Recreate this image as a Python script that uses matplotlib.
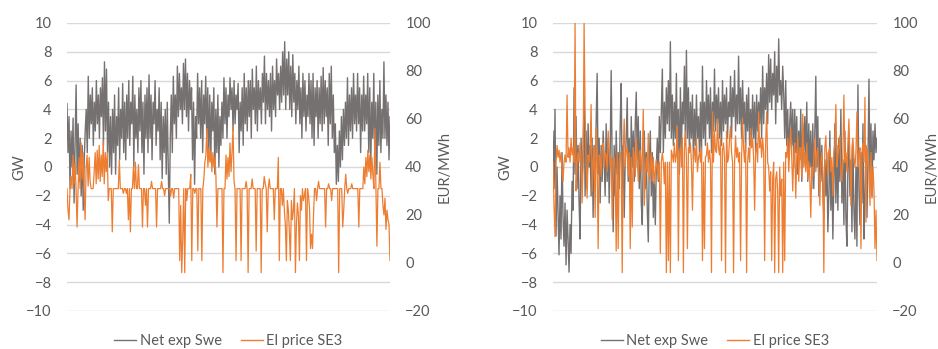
import numpy as np
import matplotlib
matplotlib.use("Agg")
from matplotlib import pyplot as plt

plt.rcParams['font.family'] = ['Lato', 'DejaVu Sans']

# net export Sweden (GW), left chart, read column by column
net_a = [4.4, 1.0, 3.5, -1.5, 2.5, 0.0, 3.4, -2.5, 1.5, 5.7, -0.5, 3.0, -1.0, 2.0, -2.0, 1.5, -3.0, 0.5, 2.5, 4.0,
         1.0, 6.3, 2.0, 5.0, 3.0, 5.5, 1.5, 4.5, 2.5, 6.0, 3.0, 5.0, 2.0, 5.5, 3.5, 6.2, 1.5, 7.3, 2.5, 6.8,
         1.0, 4.5, 0.0, 3.5, -0.5, 4.0, 1.0, 5.0, -0.5, 3.5, 1.5, 5.5, 0.5, 4.0, 2.0, 5.8, 1.0, 4.5, 0.5, 5.0,
         2.0, 6.0, 1.5, 4.5, 3.0, 6.3, 0.0, 5.0, 2.0, 4.0, 1.0, 5.5, 2.5, 6.0, 1.0, 4.5, -0.5, 5.0, 2.0, 5.5,
         1.0, 6.4, 2.0, 5.0, 0.5, 4.5, 3.0, 6.0, 1.5, 4.0, 2.5, 5.5, 0.5, 4.5, -0.8, 3.5, 1.0, 4.0, -0.5, 4.5,
         0.0, -3.9, 2.0, 5.0, 1.0, 6.3, 3.0, 5.0, 2.0, 7.0, 3.5, 6.5, 4.0, 5.5, 3.0, 7.2, 4.0, 7.5, 3.5, 6.5,
         2.5, 6.0, 4.0, 5.5, 0.5, 4.5, -1.2, 3.5, 2.0, 6.5, 3.0, 5.5, 2.0, 6.0, 1.0, 5.0, 3.0, 6.3, 2.0, 5.5,
         1.0, 5.0, 0.5, 4.5, 2.5, 5.5, -0.5, 4.0, 1.0, 5.0, 0.0, 3.5, 1.5, 4.5, 2.0, 6.2, 3.0, 5.5, 2.0, 5.0,
         3.5, 6.2, 4.0, 5.5, 2.5, 6.0, 3.0, 5.0, 4.0, 5.8, 1.0, 4.5, 2.5, 5.5, 1.5, 6.5, 3.0, 5.5, 2.5, 6.0,
         3.5, 6.0, 2.0, 6.8, 4.0, 5.5, 3.0, 7.0, 2.5, 6.0, 4.0, 5.5, 3.0, 6.5, 4.5, 7.7, 3.0, 6.5, 4.0, 6.0,
         3.5, 6.5, 2.5, 7.0, 4.0, 6.0, 3.5, 7.5, 5.0, 6.5, 4.0, 7.0, 4.5, 8.0, 5.0, 8.7, 4.0, 7.5, 5.0, 8.0,
         4.0, 7.0, 3.5, 7.8, 4.5, 6.5, 3.0, 6.0, 4.0, 7.0, 3.0, 5.5, 2.0, 6.5, 3.5, 6.0, 2.5, 5.0, 3.5, 6.5,
         3.0, 6.0, 2.0, 6.5, 1.5, 5.5, 3.5, 6.0, 2.0, 5.5, 3.0, 6.3, 2.5, 6.9, 3.0, 6.0, 3.5, 5.5, 1.5, 6.5,
         3.0, 7.0, 2.0, 5.0, 1.0, 3.0, -1.2, 1.5, -1.0, 2.5, 0.0, 3.5, 0.5, 4.0, 1.5, 4.5, 2.0, 6.2, 1.5, 5.0,
         2.5, 5.5, 2.0, 6.5, 3.0, 5.0, 2.5, 6.5, 3.0, 5.5, 1.0, 5.0, 2.5, 6.3, 2.5, 5.0, 3.0, 6.5, 1.0, 5.5,
         0.0, 4.5, 2.0, 6.5, 0.5, 4.5, -0.5, 5.0, 1.5, 6.0, 1.0, 4.0, 2.0, 7.3, 2.0, 5.0, 1.5, 4.5, 0.5, 3.5]

# SE3 price (EUR/MWh), left chart
price_a = [31, 22, 18, 31, 36, 31, 45, 33, 42, 31, 15, 31, 44, 31, 50, 35, 46, 31, 18, 40,
           45, 32, 44, 34, 31, 31, 31, 38, 46, 33, 47, 35, 49, 34, 45, 36, 51, 33, 46, 38,
           46, 26, 31, 31, 31, 13, 31, 31, 31, 31, 31, 31, 43, 31, 31, 31, 29, 31, 31, 29,
           31, 18, 31, 13, 31, 31, 40, 31, 42, 31, 31, 41, 31, 31, 31, 15, 31, 31, 24, 31,
           15, 31, 31, 31, 34, 31, 31, 31, 31, 15, 31, 31, 31, 31, 34, 31, 31, 28, 31, 31,
           31, 31, 31, 28, 31, 31, 27, 31, 31, 31, 31, 31, 1, 24, -4, 10, 31, -4, 31, 26,
           31, 31, 31, 37, 1, 31, 31, 29, 31, 31, 5, 31, 31, 31, 1, 31, 35, 42, 45, 56,
           40, 48, 42, 47, 38, 46, 40, 44, 36, 15, 31, 31, 31, 31, 31, -4, 31, 31, 45, 35,
           44, 36, 50, 38, 46, 57, 34, 31, 1, 31, 31, 31, 31, 1, 31, 31, 31, 31, 34, 31,
           -4, 31, 31, 31, 35, 31, 31, 31, 5, 31, 31, 31, 31, -4, 31, 31, 36, 33, 31, 13,
           31, 35, 31, 31, 31, 31, 18, 31, 31, 31, 44, 1, 31, 31, 24, 31, 22, 16, 1, 26,
           22, 13, 1, 26, 18, 22, 31, -4, 16, 25, 20, 1, 28, 22, 31, 26, 28, 31, 1, 31,
           28, 23, 6, 12, 6, 20, 31, 31, 26, 31, 34, 31, 31, 31, 31, 31, 31, 15, 31, 31,
           33, 31, 31, 26, 31, 31, 31, 31, 31, 31, -4, 31, 31, 31, 15, 22, 31, 37, 31, 29,
           31, 31, 31, 33, 31, 31, 31, 31, 31, 31, 15, 31, 31, 31, 31, 40, 33, 44, 36, 47,
           38, 45, 35, 44, 37, 31, 56, 31, 7, 31, 31, 42, 31, 31, 24, 20, 27, 14, 22, 18, 16, 1]

# net export Sweden (GW), right chart
net_b = [2.5, -1.5, 4.0, -4.8, 0.0, -3.0, -6.1, -2.0, -5.0, 1.0, -3.5, -5.5, -2.5, -6.8, -3.0, -5.0, -7.3, -4.0, -6.0, -1.0,
         -3.0, 5.5, -0.5, 3.5, -1.5, 1.5, -2.5, -5.0, 2.0, -1.0, 1.0, 5.0, -2.0, 2.5, -1.5, 3.0, 0.0, 1.5, -2.0, 2.0,
         -3.5, 1.5, -1.5, 3.0, 6.5, -0.5, 2.0, -2.5, 1.5, -1.0, 2.5, 0.5, -2.0, 3.0, -1.0, 2.0, -2.5, 1.0, 6.7, 0.0,
         -4.5, 1.5, -2.0, 2.5, -0.5, 1.0, -1.5, 3.0, 5.8, -2.0, 1.5, -3.5, 0.5, 2.0, 4.8, -1.0, 2.0, -2.5, 3.5, 0.0,
         2.5, -1.0, 3.0, 5.2, 0.0, 3.5, -1.5, 2.5, -2.5, -4.0, 1.0, 2.5, -1.5, 1.0, -3.0, -5.2, 0.5, 2.5, -2.0, 1.0,
         -3.5, -1.0, -4.0, 0.0, 2.0, -1.0, 3.5, 1.0, 4.0, 6.8, 1.0, 4.5, 2.0, 5.5, 3.0, 6.0, 2.5, 8.7, 2.0, 5.0,
         1.5, 4.5, 2.0, 6.5, 1.0, 4.0, -0.5, 5.5, 1.0, 4.5, 3.0, 7.0, 1.5, 8.1, 2.0, 5.5, 1.0, 4.5, 2.0, 5.0,
         0.5, 4.0, 1.5, 5.0, 2.0, 3.5, 1.0, 4.5, 0.5, 7.0, 2.0, 4.5, 1.5, 6.0, 3.0, 5.0, 2.0, 5.5, 1.0, 4.5,
         2.5, 6.8, 2.5, 5.0, 3.0, 5.5, 2.0, 4.5, 1.5, 6.0, 2.5, 5.0, 3.0, 5.5, 2.0, 4.5, 3.5, 6.3, 2.0, 5.5,
         3.5, 6.7, 2.5, 5.0, 3.0, 7.7, 3.0, 5.5, 2.0, 6.0, 3.0, 4.5, 1.0, 5.0, 2.5, 5.5, 1.5, 4.0, 2.0, 5.0,
         2.0, 4.5, 1.0, 5.0, 2.5, 4.5, 3.0, 5.5, 2.0, 7.0, 3.0, 5.5, 4.0, 6.5, 3.0, 7.8, 4.5, 7.5, 4.0, 6.5,
         5.0, 8.0, 3.0, 7.0, 4.5, 8.9, 5.0, 6.0, 4.0, 7.0, 5.0, 2.0, 6.0, 1.5, 4.0, 0.5, 3.0, 4.5, 1.5, 4.0,
         0.0, 4.0, 1.0, 3.5, -0.5, 2.5, 0.5, 4.0, -1.0, 3.0, 1.0, 3.5, 0.5, 4.5, -1.0, 3.0, 0.0, 2.5, -1.5, 3.0,
         -1.5, 2.5, 6.3, 0.0, 3.5, -2.0, 2.0, -1.0, 1.5, -1.5, -3.5, 0.5, -2.0, 1.0, -4.5, -2.0, 2.5, -3.0, 0.0, -5.0,
         -1.0, 3.0, -2.5, 1.5, -3.0, 2.0, -1.0, 4.0, -2.5, 0.5, -4.0, 2.5, -3.5, -5.5, 0.0, 2.0, -2.0, 0.5, -4.5, 1.5,
         -3.0, -5.0, 0.0, -5.5, 5.7, -1.5, -4.0, 1.0, -2.5, 3.0, -5.0, -2.0, 1.5, -3.5, 0.5, 6.1, -1.0, 3.0, -2.0, 2.5,
         0.5, 3.0, 1.0, 2.0]

# SE3 price (EUR/MWh), right chart
price_b = [42, 24, 11, 42, 49, 44, 47, 42, 46, 40, 34, 42, 45, 42, 70, 44, 48, 42, 52, 45,
           48, 42, 100, 30, 42, 46, 42, 50, 44, 25, 42, 100, 63, 42, 27, 45, 42, 48, 66, 30,
           42, 48, 19, 56, 42, 6, 45, 44, 36, 48, 50, 40, 46, 45, 38, 55, 47, 40, 44, 18,
           42, 44, 38, 5, 46, 6, 42, 46, 40, -4, 47, 60, 40, 48, 48, 36, 46, 6, 44, 15,
           48, 45, 36, 52, 44, 34, 46, 47, 38, 44, 64, 24, 36, 44, 38, 54, 35, 38, 46, 34,
           44, 33, 38, 43, 39, 35, 42, 4, 42, 46, 42, 33, 42, -4, 42, 1, 42, -4, 47, 45,
           42, 50, 42, 45, 57, 1, 46, 48, 40, 52, -4, 47, 55, 44, 6, 48, 46, 50, 42, 22,
           45, 48, 42, 52, 38, 44, 46, 42, 48, 1, 42, 6, 44, 45, 50, 42, 47, 42, -4, 63,
           42, 55, 47, 46, 60, 48, 45, 52, 1, 47, 50, 44, -4, 55, 42, 44, 52, 57, 46, 42,
           -4, 42, 53, 44, 48, 42, 46, 1, 44, 60, 48, 42, 50, -4, 42, 48, 42, 56, 48, 52,
           44, 22, 46, 50, 42, 63, 48, 52, 44, 52, 46, 1, 50, 63, 42, 40, 30, 38, 1, 35,
           42, -4, 35, 38, 30, -4, 40, 28, 35, -4, 42, 1, 46, 44, 52, 38, 48, 56, 44, 30,
           46, 50, 27, 44, 53, 34, 48, 48, 36, 62, 40, 46, 38, 50, 35, 42, 36, 19, 40, 36,
           44, 52, 38, 46, 48, 36, 24, 42, 46, 38, -4, 48, 53, 42, 36, 47, 48, 38, 44, 28,
           46, 50, 66, 40, 45, 48, 53, 38, 34, 46, 70, 42, 46, 38, 50, 60, 44, 24, 48, 52,
           44, 40, 46, 63, 40, 45, 48, 6, 46, 50, 42, 69, 17, 48, 44, 38, 24, 46, 27, 40, 30, 6, 22, 1]

grey = '#767171'
orange = '#ED7D31'
txt = '#595959'

fig = plt.figure(figsize=(9.38, 3.49), dpi=100)
boxes = [[67/938, 38/349, 323/938, 288/349], [553/938, 38/349, 324/938, 288/349]]

for box, net, price in zip(boxes, [net_a, net_b], [price_a, price_b]):
    ax = fig.add_axes(box)
    ax2 = ax.twinx()
    ax.set_zorder(1)
    ax2.set_zorder(2)
    ax.patch.set_visible(False)
    ax2.patch.set_visible(False)

    ax.plot(np.linspace(0, 8760, len(net)), net, color=grey, lw=1.0, label='Net exp Swe')
    ax2.plot(np.linspace(0, 8760, len(price)), price, color=orange, lw=0.9, label='El price SE3')

    ax.set_xlim(0, 8760)
    ax2.set_xlim(0, 8760)
    ax.set_ylim(-10, 10)
    ax.set_yticks(range(-10, 11, 2))
    ax2.set_ylim(-20, 100)
    ax2.set_yticks(range(-20, 101, 20))
    ax.set_xticks([])
    ax.grid(axis='y', color='#D9D9D9', lw=1)
    ax.set_axisbelow(True)
    for a in (ax, ax2):
        for s in a.spines.values():
            s.set_visible(False)
        a.tick_params(length=0, labelsize=10.5, labelcolor=txt, pad=11)
    ax.set_ylabel('GW', fontsize=10.5, color=txt)
    ax.yaxis.set_label_coords(-0.125, 0.5)
    ax2.set_ylabel('EUR/MWh', fontsize=10.5, color=txt)
    ax2.yaxis.set_label_coords(1.148, 0.5)

    h1, l1 = ax.get_legend_handles_labels()
    h2, l2 = ax2.get_legend_handles_labels()
    leg = ax2.legend(h1 + h2, l1 + l2, loc='center', bbox_to_anchor=(0.5, -0.105),
                     ncol=2, frameon=False, fontsize=10.5, handlelength=1.5,
                     handletextpad=0.25, columnspacing=1.3)
    for t in leg.get_texts():
        t.set_color(txt)
    for l in leg.get_lines():
        l.set_linewidth(1)

fig.savefig('out.png', dpi=100)
